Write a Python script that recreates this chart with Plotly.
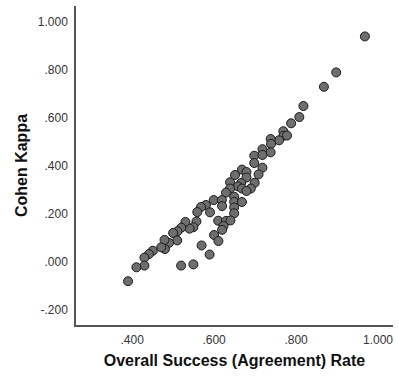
import plotly.graph_objects as go

success_rate = [
    0.968, 0.898, 0.868, 0.818, 0.808, 0.788, 0.769, 0.769, 0.778, 0.7585,
    0.738, 0.739, 0.718, 0.738, 0.698, 0.718, 0.698, 0.718, 0.7085, 0.668,
    0.679, 0.651, 0.679, 0.639, 0.666, 0.699, 0.6585, 0.639, 0.668, 0.6895,
    0.679, 0.629, 0.649, 0.649, 0.599, 0.619, 0.668, 0.6195, 0.580, 0.568,
    0.559, 0.590, 0.649, 0.649, 0.557, 0.5495, 0.540, 0.530, 0.520, 0.5105,
    0.500, 0.510, 0.490, 0.479, 0.480, 0.471, 0.4505, 0.441, 0.430, 0.430,
    0.4105, 0.390, 0.5195, 0.5495, 0.5695, 0.589, 0.610, 0.629, 0.640, 0.623,
    0.6195, 0.600, 0.6105,
]
cohen_kappa = [
    0.940, 0.790, 0.730, 0.650, 0.604, 0.578, 0.545, 0.526, 0.527, 0.507,
    0.5125, 0.492, 0.470, 0.457, 0.443, 0.446, 0.4125, 0.393, 0.365, 0.385,
    0.375, 0.3625, 0.352, 0.332, 0.329, 0.330, 0.315, 0.306, 0.306, 0.306,
    0.296, 0.289, 0.272, 0.251, 0.258, 0.258, 0.250, 0.233, 0.2375, 0.229,
    0.208, 0.207, 0.227, 0.203, 0.169, 0.145, 0.139, 0.167, 0.143, 0.128,
    0.121, 0.090, 0.080, 0.092, 0.054, 0.061, 0.047, 0.033, 0.018, -0.015,
    -0.022, -0.080, -0.015, -0.010, 0.069, 0.031, 0.172, 0.171, 0.173, 0.150,
    0.134, 0.1125, 0.0875,
]

x_ticks = [0.4, 0.6, 0.8, 1.0]
x_tick_labels = [".400", ".600", ".800", "1.000"]
y_ticks = [-0.2, 0.0, 0.2, 0.4, 0.6, 0.8, 1.0]
y_tick_labels = ["-.200", ".000", ".200", ".400", ".600", ".800", "1.000"]

FONT = "Liberation Sans, Arial, sans-serif"

fig = go.Figure(
    go.Scatter(
        x=success_rate,
        y=cohen_kappa,
        mode="markers",
        marker=dict(size=9, color="#6e6e6e", line=dict(color="#1a1a1a", width=1)),
        hoverinfo="skip",
    )
)

fig.update_layout(
    width=399,
    height=386,
    margin=dict(l=76, r=6, t=6, b=61),
    paper_bgcolor="white",
    plot_bgcolor="white",
    showlegend=False,
    font=dict(family=FONT, color="#222222"),
)

fig.update_xaxes(
    automargin=False,
    range=[0.263, 1.0366],
    tickvals=x_ticks,
    ticktext=x_tick_labels,
    tickfont=dict(size=12, color="#333333"),
    showgrid=False,
    zeroline=False,
    showline=True,
    linecolor="#555555",
    linewidth=1.5,
    ticks="outside",
    ticklen=3,
    tickcolor="rgba(0,0,0,0)",
    title=dict(
        text="<b>Overall Success (Agreement) Rate</b>",
        font=dict(size=16, color="#111111", family=FONT),
        standoff=9,
    ),
)
fig.update_yaxes(
    automargin=False,
    range=[-0.2625, 1.0667],
    tickvals=y_ticks,
    ticktext=y_tick_labels,
    tickfont=dict(size=12, color="#333333"),
    showgrid=False,
    zeroline=False,
    showline=True,
    linecolor="#555555",
    linewidth=1.5,
    ticks="outside",
    ticklen=4,
    tickcolor="rgba(0,0,0,0)",
    title=dict(
        text="<b>Cohen Kappa</b>",
        font=dict(size=16, color="#111111", family=FONT),
        standoff=6,
    ),
)

fig.write_html(
    "out.html",
    config={"displayModeBar": False},
    post_script="document.body.style.margin='0';document.body.style.overflow='hidden';",
)
